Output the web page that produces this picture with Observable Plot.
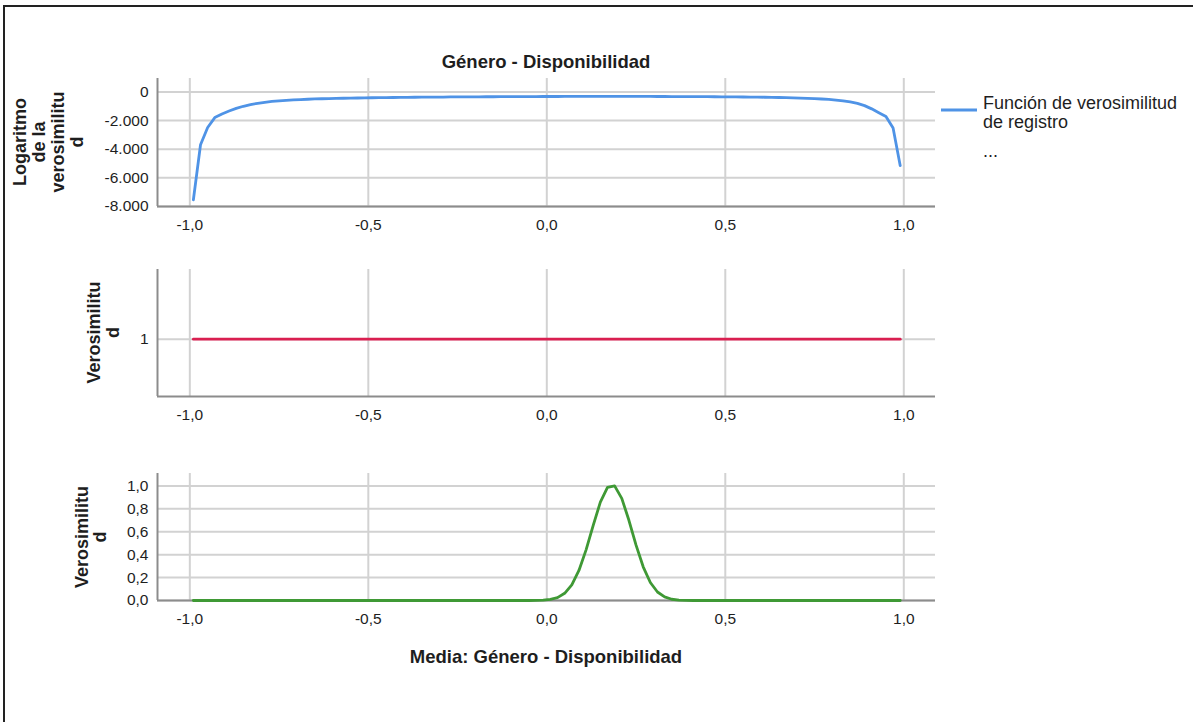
<!DOCTYPE html>
<html><head><meta charset="utf-8">
<script src="https://cdn.jsdelivr.net/npm/d3@7"></script>
<script src="https://cdn.jsdelivr.net/npm/@observablehq/plot@0.6"></script>
<style>
body{margin:0;background:#fff;}
#root{position:relative;width:1193px;height:722px;overflow:hidden;font-family:"Liberation Sans",Arial,sans-serif;background:#fff;}
#frame{position:absolute;left:3px;top:5px;width:1300px;height:800px;border-top:2px solid #222;border-left:2px solid #222;}
.panel{position:absolute;left:0;}
#overlay{position:absolute;left:0;top:0;pointer-events:none;}
</style></head><body><div id="root"><div id="frame"></div></div>
<script>
// ---- data ----
const title = "Género - Disponibilidad";
const xTitle = "Media: Género - Disponibilidad";
const legendLabel = ["Función de verosimilitud", "de registro"];

const media = [-0.99,-0.97,-0.95,-0.93,-0.91,-0.89,-0.87,-0.85,-0.83,-0.81,
  -0.79,-0.77,-0.75,-0.73,-0.71,-0.69,-0.67,-0.65,-0.63,-0.61,
  -0.59,-0.57,-0.55,-0.53,-0.51,-0.49,-0.47,-0.45,-0.43,-0.41,
  -0.39,-0.37,-0.35,-0.33,-0.31,-0.29,-0.27,-0.25,-0.23,-0.21,
  -0.19,-0.17,-0.15,-0.13,-0.11,-0.09,-0.07,-0.05,-0.03,-0.01,
  0.01,0.03,0.05,0.07,0.09,0.11,0.13,0.15,0.17,0.19,
  0.21,0.23,0.25,0.27,0.29,0.31,0.33,0.35,0.37,0.39,
  0.41,0.43,0.45,0.47,0.49,0.51,0.53,0.55,0.57,0.59,
  0.61,0.63,0.65,0.67,0.69,0.71,0.73,0.75,0.77,0.79,
  0.81,0.83,0.85,0.87,0.89,0.91,0.93,0.95,0.97,0.99];

const logVerosimilitud = [-7530,-3690,-2480,-1790,-1540,-1330,-1150,-1000,-880,-790,
  -720,-665,-620,-585,-555,-530,-508,-490,-475,-462,
  -450,-440,-430,-421,-413,-406,-399,-393,-387,-381,
  -376,-371,-366,-362,-358,-354,-350,-347,-344,-341,
  -338,-335,-333,-330,-328,-326,-324,-322,-320,-318,
  -317,-316,-315,-314,-313,-313,-312,-312,-312,-312,
  -312,-313,-313,-314,-315,-316,-317,-319,-321,-323,
  -325,-328,-331,-334,-338,-342,-346,-351,-357,-363,
  -370,-378,-388,-399,-412,-427,-445,-466,-492,-524,
  -565,-620,-695,-800,-955,-1180,-1450,-1720,-2525,-5148];

const verosimilitudPrevia = [1,1,1,1,1,1,1,1,1,1, 1,1,1,1,1,1,1,1,1,1,
  1,1,1,1,1,1,1,1,1,1, 1,1,1,1,1,1,1,1,1,1,
  1,1,1,1,1,1,1,1,1,1, 1,1,1,1,1,1,1,1,1,1,
  1,1,1,1,1,1,1,1,1,1, 1,1,1,1,1,1,1,1,1,1,
  1,1,1,1,1,1,1,1,1,1, 1,1,1,1,1,1,1,1,1,1];

const verosimilitud = [0,0,0,0,0,0,0,0,0,0, 0,0,0,0,0,0,0,0,0,0,
  0,0,0,0,0,0,0,0,0,0, 0,0,0,0,0,0,0,0,0,0,
  0,0,0,0,0,0,0,0,0.001,0.003,
  0.009,0.025,0.063,0.137,0.262,0.442,0.656,0.858,0.987,1.0,
  0.891,0.700,0.483,0.294,0.157,0.074,0.031,0.011,0.004,0.001,
  0,0,0,0,0,0,0,0,0,0, 0,0,0,0,0,0,0,0,0,0,
  0,0,0,0,0,0,0,0,0,0];

const xTicks = [-1, -0.5, 0, 0.5, 1];
const yTicks1 = [-8000, -6000, -4000, -2000, 0];
const yTicks2 = [1];
const yTicks3 = [0, 0.2, 0.4, 0.6, 0.8, 1.0];

const colors = {log: "#4f93e6", prior: "#d91f50", lik: "#3f9935"};

// ---- helpers ----
const loc = d3.formatLocale({decimal: ",", thousands: ".", grouping: [3], currency: ["", "€"], minus: "-"});
const fmtX = loc.format(".1f");
const fmtY1 = loc.format(",.0f");
const fmtY3 = loc.format(".1f");
const W = 1193, LEFT = 157, RIGHT = 935;
const xDomain = [-1.0905, 1.0888];
const gridColor = "#d2d2d2", axisColor = "#8c8c8c", textColor = "#1e1e1e";

function panel({top, height, mTop, mBottom, yDomain, yTicks, yFmt, values, color}) {
  const rows = media.map((m, i) => ({m, v: values[i]}));
  const p = Plot.plot({
    width: W, height,
    marginLeft: LEFT, marginRight: W - RIGHT, marginTop: mTop, marginBottom: mBottom,
    style: {fontFamily: '"Liberation Sans", Arial, sans-serif', fontSize: "15.5px", color: textColor, background: "transparent", overflow: "visible"},
    x: {domain: xDomain, label: null},
    y: {domain: yDomain, label: null},
    marks: [
      Plot.gridY(yTicks, {stroke: gridColor, strokeOpacity: 1, strokeWidth: 2}),
      Plot.gridX(xTicks, {stroke: gridColor, strokeOpacity: 1, strokeWidth: 2}),
      Plot.ruleX([xDomain[0]], {stroke: axisColor, strokeWidth: 2}),
      Plot.ruleY([yDomain[0]], {stroke: axisColor, strokeWidth: 2}),
      Plot.line(rows, {x: "m", y: "v", stroke: color, strokeWidth: 2.8}),
      Plot.axisX(xTicks, {tickSize: 0, tickPadding: 12, tickFormat: fmtX, label: null}),
      Plot.axisY(yTicks, {tickSize: 0, tickPadding: 9, tickFormat: yFmt, label: null})
    ]
  });
  p.classList.add("panel");
  p.style.top = top + "px";
  document.getElementById("root").appendChild(p);
}

panel({top: 0, height: 240, mTop: 78, mBottom: 34, yDomain: [-8000, 940], yTicks: yTicks1, yFmt: fmtY1, values: logVerosimilitud, color: colors.log});
panel({top: 240, height: 200, mTop: 29, mBottom: 44, yDomain: [0.19, 1.985], yTicks: yTicks2, yFmt: d => String(d), values: verosimilitudPrevia, color: colors.prior});
panel({top: 440, height: 200, mTop: 33, mBottom: 40, yDomain: [0, 1.108], yTicks: yTicks3, yFmt: fmtY3, values: verosimilitud, color: colors.lik});

// ---- overlay text ----
const svg = d3.create("svg").attr("id", "overlay").attr("width", W).attr("height", 722)
  .style("font-family", '"Liberation Sans", Arial, sans-serif').attr("fill", textColor);
svg.append("text").attr("x", 546).attr("y", 68).attr("text-anchor", "middle")
  .attr("font-size", 18.5).attr("font-weight", "bold").text(title);
svg.append("text").attr("x", 546).attr("y", 663).attr("text-anchor", "middle")
  .attr("font-size", 18.5).attr("font-weight", "bold").text(xTitle);

function yLabel(cy, lines, baselines) {
  const t = svg.append("text").attr("transform", `translate(0,${cy}) rotate(-90)`)
    .attr("text-anchor", "middle").attr("font-size", 18).attr("font-weight", "bold");
  lines.forEach((l, i) => t.append("tspan").attr("x", 0).attr("y", baselines[i]).text(l));
}
yLabel(142, ["Logaritmo", "de la", "verosimilitu", "d"], [26, 45, 64, 83]);
yLabel(332.5, ["Verosimilitu", "d"], [100, 118.5]);
yLabel(537, ["Verosimilitu", "d"], [87.5, 106]);

svg.append("line").attr("x1", 941).attr("x2", 977).attr("y1", 110).attr("y2", 110)
  .attr("stroke", colors.log).attr("stroke-width", 2.8);
legendLabel.forEach((l, i) => svg.append("text").attr("x", 983).attr("y", 109 + i * 18.5)
  .attr("font-size", 18).text(l));
svg.append("text").attr("x", 983).attr("y", 157).attr("font-size", 18).text("...");
document.getElementById("root").appendChild(svg.node());
</script>
</body></html>
